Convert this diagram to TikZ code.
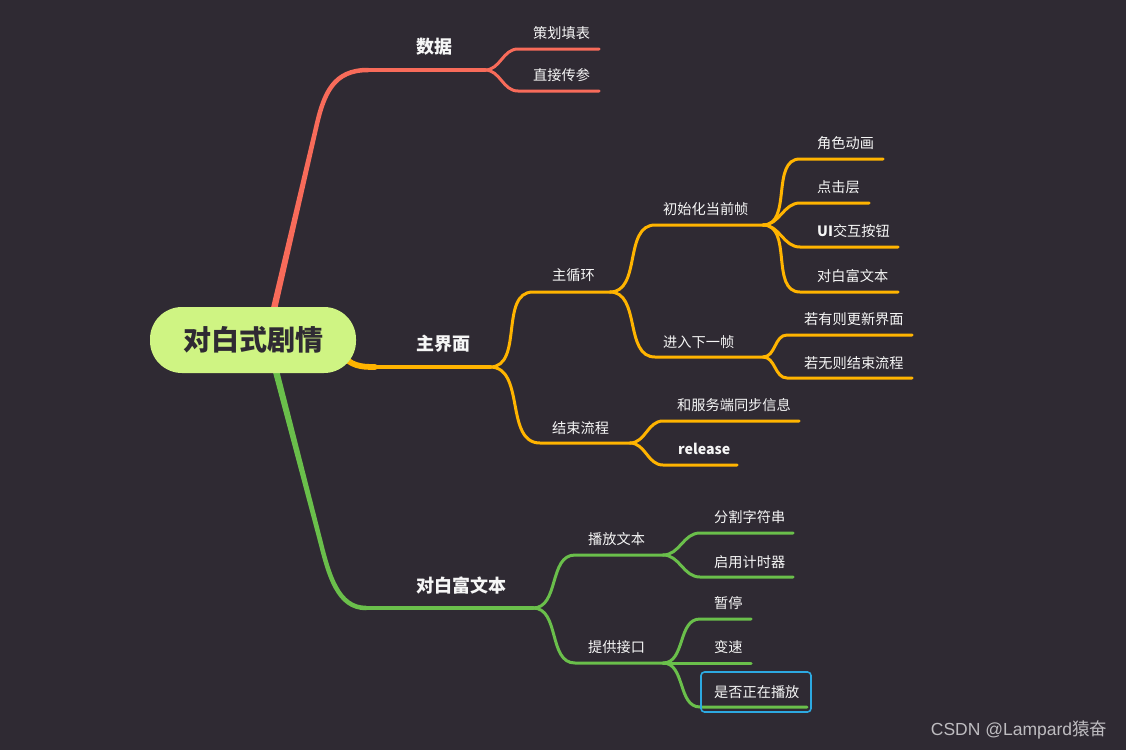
\documentclass[tikz,border=0pt]{standalone}
\usepackage{fontspec}
\setmainfont{Noto Sans CJK SC}
\newfontfamily\arialf{Liberation Sans}
\usetikzlibrary{calc}
\definecolor{bg}{HTML}{2F2A33}
\definecolor{cred}{HTML}{F86B5A}
\definecolor{corange}{HTML}{FFB400}
\definecolor{cgreen}{HTML}{6ABF4B}
\definecolor{croot}{HTML}{CFF483}
\definecolor{cblue}{HTML}{2DA9E1}
\definecolor{ctext}{HTML}{F6F6F6}
\definecolor{wmtext}{HTML}{BEBCC0}
\pgfdeclarelayer{back}
\pgfdeclarelayer{lines}
\pgfsetlayers{back,lines,main}
\tikzset{
  lbl/.style={text=ctext, font=\fontsize{14.2}{16}\selectfont, inner sep=0pt, anchor=west},
  mainlbl/.style={text=ctext, font=\fontsize{18}{20}\selectfont\bfseries, inner sep=0pt, anchor=west},
  rootbox/.style={fill=croot, draw=none, rounded corners=32pt, minimum width=206pt, minimum height=66pt,
    text=bg, font=\fontsize{28}{30}\selectfont\bfseries, inner sep=0pt},
  subline/.style={line width=3pt, line cap=round, line join=round},
  mainline/.style={line width=4pt, line cap=round, line join=round},
  rootline/.style={line width=4.5pt, line cap=round, line join=round},
  rootthick/.style={line width=5.8pt, line cap=round},
  fork/.style={out=0, in=180, looseness=1},
}
\begin{document}
\begin{tikzpicture}[x=1pt,y=-1pt]
\begin{pgfonlayer}{back}
\fill[bg] (0,0) rectangle (1126,750);
\end{pgfonlayer}
\useasboundingbox (0,0) rectangle (1126,750);

% root
\node[rootbox] (root) at (253,340) {对白式剧情};

% ---------- coordinates (underline ends) ----------
% red
\coordinate (dataA) at (316,128);
\coordinate (dataL) at (368,70);  \coordinate (dataR) at (485,70);
\coordinate (ceL) at (518,49);    \coordinate (ceR) at (599,49);
\coordinate (zhiL) at (518,91);   \coordinate (zhiR) at (599,91);
% orange
\coordinate (uiL) at (375,367);   \coordinate (uiR) at (490,367);
\coordinate (loopL) at (533,292); \coordinate (loopR) at (610,292);
\coordinate (endL) at (540,443);  \coordinate (endR) at (630,443);
\coordinate (initL) at (655,225); \coordinate (initR) at (763,225);
\coordinate (nextL) at (655,357); \coordinate (nextR) at (763,357);
\coordinate (roleL) at (800,159); \coordinate (roleR) at (883,159);
\coordinate (clickL) at (800,203); \coordinate (clickR) at (869,203);
\coordinate (btnL) at (800,247);  \coordinate (btnR) at (898,247);
\coordinate (dlgL) at (800,292);  \coordinate (dlgR) at (898,292);
\coordinate (updL) at (787,335);  \coordinate (updR) at (912,335);
\coordinate (finL) at (787,378);  \coordinate (finR) at (912,378);
\coordinate (syncL) at (663,421); \coordinate (syncR) at (799,421);
\coordinate (relL) at (663,465);  \coordinate (relR) at (737,465);
% green
\coordinate (richA) at (320,540);
\coordinate (richL) at (366,608); \coordinate (richR) at (533,608);
\coordinate (playL) at (575,555); \coordinate (playR) at (663,555);
\coordinate (apiL) at (575,663);  \coordinate (apiR) at (663,663);
\coordinate (splitL) at (700,533); \coordinate (splitR) at (793,533);
\coordinate (timerL) at (700,577); \coordinate (timerR) at (793,577);
\coordinate (pauseL) at (700,619); \coordinate (pauseR) at (751,619);
\coordinate (speedL) at (700,663); \coordinate (speedR) at (751,663);
\coordinate (isplayL) at (700,707); \coordinate (isplayR) at (807,707);

% ---------- connectors ----------
\begin{pgfonlayer}{lines}
% main branches from root (tapered straight part + curve)
\coordinate (redS) at ($(root.north)+(21,2)$);
\fill[cred] ($(redS)!3.2pt!90:(dataA)$) -- ($(redS)!3.2pt!-90:(dataA)$)
   -- ($(dataA)!2.25pt!90:(redS)$) -- ($(dataA)!2.25pt!-90:(redS)$) -- cycle;
\draw[cred, rootline] (dataA) .. controls (324,92) and (334,70) .. (dataL);
\draw[cred, mainline] (dataL) -- (dataR);

\draw[corange, rootthick] ($(root.east)+(-16,14)$) .. controls (352,366) and (360,367) .. (uiL);
\draw[corange, mainline] (uiL) -- (uiR);

\coordinate (greenS) at ($(root.south)+(23,-2)$);
\fill[cgreen] ($(greenS)!3.2pt!90:(richA)$) -- ($(greenS)!3.2pt!-90:(richA)$)
   -- ($(richA)!2.25pt!90:(greenS)$) -- ($(richA)!2.25pt!-90:(greenS)$) -- cycle;
\draw[cgreen, rootline] (richA) .. controls (329,576) and (338,608) .. (richL);
\draw[cgreen, mainline] (richL) -- (richR);

% red sub
\draw[cred, subline] (dataR) to[fork] (ceL) -- (ceR);
\draw[cred, subline] (dataR) to[fork] (zhiL) -- (zhiR);

% orange sub
\draw[corange, subline] (uiR) to[fork] (loopL) -- (loopR);
\draw[corange, subline] (uiR) to[fork] (endL) -- (endR);
\draw[corange, subline] (loopR) to[fork] (initL) -- (initR);
\draw[corange, subline] (loopR) to[fork] (nextL) -- (nextR);
\draw[corange, subline] (initR) to[fork] (roleL) -- (roleR);
\draw[corange, subline] (initR) to[fork] (clickL) -- (clickR);
\draw[corange, subline] (initR) to[fork] (btnL) -- (btnR);
\draw[corange, subline] (initR) to[fork] (dlgL) -- (dlgR);
\draw[corange, subline] (nextR) to[fork] (updL) -- (updR);
\draw[corange, subline] (nextR) to[fork] (finL) -- (finR);
\draw[corange, subline] (endR) to[fork] (syncL) -- (syncR);
\draw[corange, subline] (endR) to[fork] (relL) -- (relR);

% green sub
\draw[cgreen, subline] (richR) to[fork] (playL) -- (playR);
\draw[cgreen, subline] (richR) to[fork] (apiL) -- (apiR);
\draw[cgreen, subline] (playR) to[fork] (splitL) -- (splitR);
\draw[cgreen, subline] (playR) to[fork] (timerL) -- (timerR);
\draw[cgreen, subline] (apiR) to[fork] (pauseL) -- (pauseR);
\draw[cgreen, subline] (apiR) -- (speedL) -- (speedR);
\draw[cgreen, subline] (apiR) to[fork] (isplayL) -- (isplayR);
\end{pgfonlayer}

% ---------- labels ----------
\node[mainlbl] (tData) at (416,47) {数据};
\node[lbl] (tCe) at (533,33) {策划填表};
\node[lbl] (tZhi) at (533,75) {直接传参};

\node[mainlbl] (tUi) at (416,344) {主界面};
\node[lbl] (tLoop) at (552,275) {主循环};
\node[lbl] (tEnd) at (552,428) {结束流程};
\node[lbl] (tInit) at (663,209) {初始化当前帧};
\node[lbl] (tNext) at (663,342) {进入下一帧};
\node[lbl] (tRole) at (817,143) {角色动画};
\node[lbl] (tClick) at (817,187) {点击层};
\node[lbl] (tBtn) at (817,231) {\textbf{UI}交互按钮};
\node[lbl] (tDlg) at (817,276) {对白富文本};
\node[lbl] (tUpd) at (804,319) {若有则更新界面};
\node[lbl] (tFin) at (804,363) {若无则结束流程};
\node[lbl] (tSync) at (677,405) {和服务端同步信息};
\node[lbl] (tRel) at (678,449) {\textbf{release}};

\node[mainlbl] (tRich) at (416,586) {对白富文本};
\node[lbl] (tPlay) at (588,539) {播放文本};
\node[lbl] (tApi) at (588,647) {提供接口};
\node[lbl] (tSplit) at (714,517) {分割字符串};
\node[lbl] (tTimer) at (714,562) {启用计时器};
\node[lbl] (tPause) at (714,603) {暂停};
\node[lbl] (tSpeed) at (714,647) {变速};
\node[lbl] (tIsplay) at (714,692) {是否正在播放};
\draw[cblue, line width=1.6pt, rounded corners=3.5pt] (701,672) rectangle (811,712);

% watermark
\node[text=wmtext, font=\fontsize{17.5}{19}\selectfont, inner sep=0pt] (wm) at (1019,730) {{\arialf CSDN @Lampard}猿奋};
\end{tikzpicture}
\end{document}
